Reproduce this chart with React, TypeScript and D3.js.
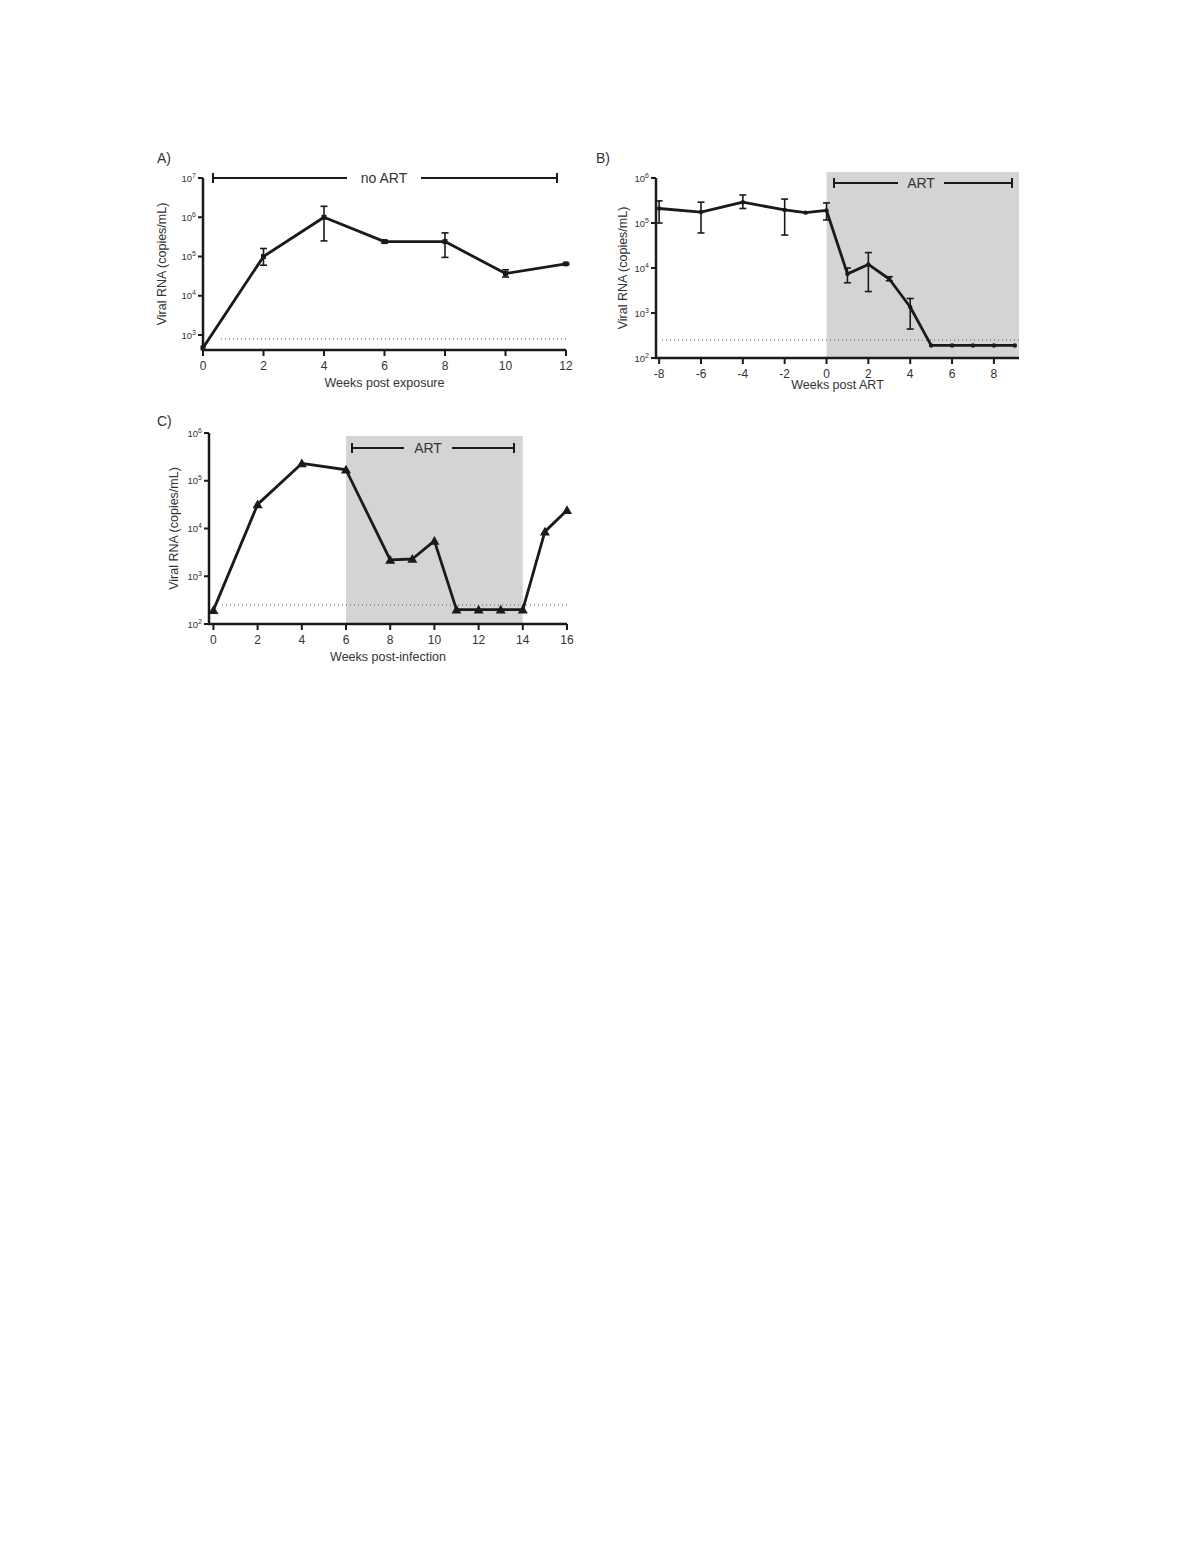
import React from "react";
import * as d3 from "d3";

// Panel A data
const weeksA = [0, 2, 4, 6, 8, 10, 12];
const rnaA = [470, 1.0e5, 1.0e6, 2.4e5, 2.4e5, 3.7e4, 6.5e4];
const errLoA = [470, 6.0e4, 2.5e5, 2.2e5, 9.5e4, 3.0e4, 6.2e4];
const errHiA = [470, 1.6e5, 1.9e6, 2.6e5, 4.0e5, 4.6e4, 6.8e4];
const xTicksA = [0, 2, 4, 6, 8, 10, 12];
const yExpA = [3, 4, 5, 6, 7];

// Panel B data
const weeksB = [-8, -6, -4, -2, -1, 0, 1, 2, 3, 4, 5, 6, 7, 8, 9];
const rnaB = [2.1e5, 1.75e5, 2.9e5, 1.95e5, 1.7e5, 1.9e5, 7.4e3, 1.2e4, 5.7e3, 1.36e3, 190, 190, 190, 190, 190];
const errLoB = [1.0e5, 6.0e4, 2.1e5, 5.4e4, 1.7e5, 1.17e5, 4.7e3, 3.0e3, 5.2e3, 440, 190, 190, 190, 190, 190];
const errHiB = [3.1e5, 2.9e5, 4.2e5, 3.4e5, 1.7e5, 2.8e5, 1.0e4, 2.2e4, 6.4e3, 2.1e3, 190, 190, 190, 190, 190];
const xTicksB = [-8, -6, -4, -2, 0, 2, 4, 6, 8];
const yExpB = [2, 3, 4, 5, 6];

// Panel C data
const weeksC = [0, 2, 4, 6, 8, 9, 10, 11, 12, 13, 14, 15, 16];
const rnaC = [195, 3.2e4, 2.3e5, 1.7e5, 2.2e3, 2.3e3, 5.5e3, 200, 200, 200, 200, 8.6e3, 2.4e4];
const xTicksC = [0, 2, 4, 6, 8, 10, 12, 14, 16];
const yExpC = [2, 3, 4, 5, 6];

const lodA = 800;
const lodB = 250;
const lodC = 250;

const FONT = "'Liberation Sans', Arial, sans-serif";
const INK = "#1a1a1a";
const TXT = "#333";

type PanelProps = {
  label: string;
  labelX: number;
  labelY: number;
  xDomain: [number, number];
  xRange: [number, number];
  yDomain: [number, number];
  yRange: [number, number];
  xTicks: number[];
  yExps: number[];
  xTitle: string;
  xTitleY: number;
  yTitleX: number;
  xs: number[];
  ys: number[];
  lo?: number[];
  hi?: number[];
  marker: "square" | "dot" | "triangle";
  lod: number;
  lodX0: number;
  band?: { x0: number; x1: number; top: number };
  bracket: { x0: number; x1: number; text: string; gapHalf: number; y: number; cx: number };
};

function Panel(p: PanelProps) {
  const x = d3.scaleLinear().domain(p.xDomain).range(p.xRange);
  const y = d3.scaleLog().domain(p.yDomain).range(p.yRange);
  const line = d3
    .line<number>()
    .x((_, i) => x(p.xs[i]))
    .y((v) => y(v));
  const axX = p.xRange[0];
  const axY = p.yRange[0];
  const yTop = p.yRange[1];
  const b = p.bracket;
  return (
    <g>
      {p.band && (
        <rect
          x={x(p.band.x0)}
          y={p.band.top}
          width={x(p.band.x1) - x(p.band.x0)}
          height={axY - p.band.top}
          fill="#d4d4d4"
        />
      )}
      <line
        x1={p.lodX0}
        x2={p.xRange[1]}
        y1={y(p.lod)}
        y2={y(p.lod)}
        stroke="#555"
        strokeWidth={1}
        strokeDasharray="1,3"
      />
      <g stroke={INK} strokeWidth={2}>
        <line x1={b.x0} x2={b.cx - b.gapHalf} y1={b.y} y2={b.y} />
        <line x1={b.cx + b.gapHalf} x2={b.x1} y1={b.y} y2={b.y} />
        <line x1={b.x0} x2={b.x0} y1={b.y - 5} y2={b.y + 5} />
        <line x1={b.x1} x2={b.x1} y1={b.y - 5} y2={b.y + 5} />
      </g>
      <text x={b.cx} y={b.y + 5} textAnchor="middle" fontSize={14} fontFamily={FONT} fill={TXT}>
        {b.text}
      </text>
      <line x1={axX} x2={axX} y1={axY + 1} y2={yTop} stroke={INK} strokeWidth={2.5} />
      <line x1={axX - 1} x2={p.xRange[1]} y1={axY} y2={axY} stroke={INK} strokeWidth={2.5} />
      {p.yExps.map((e) => (
        <g key={"y" + e}>
          <line x1={axX - 5} x2={axX} y1={y(Math.pow(10, e))} y2={y(Math.pow(10, e))} stroke={INK} strokeWidth={2} />
          <text
            x={axX - 7}
            y={y(Math.pow(10, e)) + 3.5}
            textAnchor="end"
            fontFamily={FONT}
            fill={TXT}
            fontSize={9.5}
          >
            10
            <tspan fontSize={7} dy={-4}>
              {e}
            </tspan>
          </text>
        </g>
      ))}
      {p.xTicks.map((t) => (
        <g key={"x" + t}>
          <line x1={x(t)} x2={x(t)} y1={axY} y2={axY + 6} stroke={INK} strokeWidth={2} />
          <text x={x(t)} y={axY + 20} textAnchor="middle" fontFamily={FONT} fontSize={12} fill={TXT}>
            {t}
          </text>
        </g>
      ))}
      <text
        x={(p.xRange[0] + p.xRange[1]) / 2}
        y={p.xTitleY}
        textAnchor="middle"
        fontFamily={FONT}
        fontSize={12.5}
        fill={TXT}
      >
        {p.xTitle}
      </text>
      <text
        transform={`translate(${p.yTitleX},${(axY + yTop) / 2}) rotate(-90)`}
        textAnchor="middle"
        fontFamily={FONT}
        fontSize={12.5}
        fill={TXT}
      >
        Viral RNA (copies/mL)
      </text>
      <text x={p.labelX} y={p.labelY} fontFamily={FONT} fontSize={14} fill={TXT}>
        {p.label}
      </text>
      {p.lo &&
        p.hi &&
        p.xs.map((xv, i) =>
          p.hi![i] > p.lo![i] ? (
            <g key={"e" + i} stroke={INK} strokeWidth={1.6}>
              <line x1={x(xv)} x2={x(xv)} y1={y(p.lo![i])} y2={y(p.hi![i])} />
              <line x1={x(xv) - 3.5} x2={x(xv) + 3.5} y1={y(p.lo![i])} y2={y(p.lo![i])} />
              <line x1={x(xv) - 3.5} x2={x(xv) + 3.5} y1={y(p.hi![i])} y2={y(p.hi![i])} />
            </g>
          ) : null
        )}
      <path d={line(p.ys) || ""} fill="none" stroke={INK} strokeWidth={2.8} strokeLinejoin="round" />
      {p.xs.map((xv, i) => {
        const cx = x(xv);
        const cy = y(p.ys[i]);
        if (p.marker === "square")
          return <rect key={"m" + i} x={cx - 2.5} y={cy - 2.5} width={5} height={5} fill={INK} />;
        if (p.marker === "dot") return <circle key={"m" + i} cx={cx} cy={cy} r={2.2} fill={INK} />;
        const s = 5;
        return (
          <path
            key={"m" + i}
            d={`M${cx},${cy - s}L${cx + s},${cy + s * 0.75}L${cx - s},${cy + s * 0.75}Z`}
            fill={INK}
          />
        );
      })}
    </g>
  );
}

export default function App() {
  return (
    <svg width={1184} height={1537} style={{ display: "block", background: "#fff" }}>
      <g transform="translate(-8,-8)">
        <Panel
          label="A)"
          labelX={157}
          labelY={163}
          xDomain={[0, 12]}
          xRange={[203, 566]}
          yDomain={[415, 1e7]}
          yRange={[350, 178]}
          xTicks={xTicksA}
          yExps={yExpA}
          xTitle="Weeks post exposure"
          xTitleY={387}
          yTitleX={166}
          xs={weeksA}
          ys={rnaA}
          lo={errLoA}
          hi={errHiA}
          marker="square"
          lod={lodA}
          lodX0={221}
          bracket={{ x0: 213, x1: 557, text: "no ART", gapHalf: 37, y: 178, cx: 384 }}
        />
        <Panel
          label="B)"
          labelX={596}
          labelY={163}
          xDomain={[-8.15, 9.2]}
          xRange={[656, 1019]}
          yDomain={[100, 1e6]}
          yRange={[358, 178]}
          xTicks={xTicksB}
          yExps={yExpB}
          xTitle="Weeks post ART"
          xTitleY={389}
          yTitleX={627}
          xs={weeksB}
          ys={rnaB}
          lo={errLoB}
          hi={errHiB}
          marker="dot"
          lod={lodB}
          lodX0={662}
          band={{ x0: 0, x1: 9.2, top: 172 }}
          bracket={{ x0: 834, x1: 1012, text: "ART", gapHalf: 23, y: 183, cx: 921 }}
        />
        <Panel
          label="C)"
          labelX={157}
          labelY={426}
          xDomain={[-0.2, 16]}
          xRange={[209, 567]}
          yDomain={[100, 1e6]}
          yRange={[624, 433]}
          xTicks={xTicksC}
          yExps={yExpC}
          xTitle="Weeks post-infection"
          xTitleY={661}
          yTitleX={178}
          xs={weeksC}
          ys={rnaC}
          marker="triangle"
          lod={lodC}
          lodX0={222}
          band={{ x0: 6, x1: 14, top: 436 }}
          bracket={{ x0: 352, x1: 514, text: "ART", gapHalf: 24, y: 448, cx: 428 }}
        />
      </g>
    </svg>
  );
}
